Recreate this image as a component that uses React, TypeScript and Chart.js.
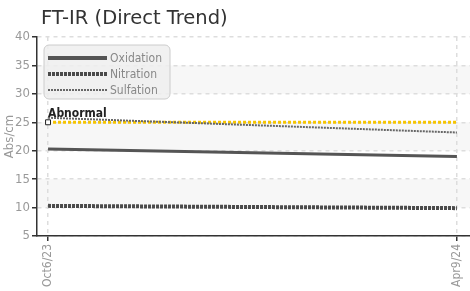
import React, { useEffect, useRef } from "react";
import { Chart, registerables } from "chart.js";

Chart.register(...registerables);

const categories = ["Oct6/23", "Apr9/24"];
const xIndex = [0, 1];
const oxidation = [20.3, 19.0];
const nitration = [10.3, 9.9];
const sulfation = [25.8, 23.2];
const abnormal = [25, 25];
const yTickValues = [5, 10, 15, 20, 25, 30, 35, 40];
const bandRanges = [
  [30, 35],
  [20, 25],
  [10, 15],
];

const NARROW = "'Liberation Sans Narrow', 'DejaVu Sans Condensed', 'Roboto', sans-serif";

export default function App() {
  const ref = useRef<HTMLCanvasElement | null>(null);

  useEffect(() => {
    const canvas = ref.current;
    if (!canvas) return;

    const bandsPlugin = {
      id: "bands",
      beforeDraw(chart: any) {
        const { ctx, chartArea } = chart;
        const y = chart.scales.y;
        ctx.save();
        ctx.fillStyle = "#f7f7f7";
        bandRanges.forEach(([a, b]) => {
          const y1 = y.getPixelForValue(b);
          const y2 = y.getPixelForValue(a);
          ctx.fillRect(chartArea.left, y1, chartArea.right - chartArea.left, y2 - y1);
        });
        ctx.restore();
      },
    };

    const overlayPlugin = {
      id: "overlay",
      afterDraw(chart: any) {
        const { ctx } = chart;
        ctx.save();
        // Title
        ctx.fillStyle = "#333";
        ctx.font = "19.5px 'DejaVu Sans', sans-serif";
        ctx.textBaseline = "alphabetic";
        ctx.textAlign = "left";
        ctx.fillText("FT-IR (Direct Trend)", 41, 24);

        // Abnormal label
        const meta = chart.getDatasetMeta(3);
        const p = meta.data[0];
        ctx.fillStyle = "#222";
        ctx.font = `bold 12px ${NARROW}`;
        ctx.fillText("Abnormal", p.x, p.y - 5);

        // Legend box
        const bx = 44, by = 45, bw = 126, bh = 54, r = 5;
        ctx.beginPath();
        ctx.moveTo(bx + r, by);
        ctx.arcTo(bx + bw, by, bx + bw, by + bh, r);
        ctx.arcTo(bx + bw, by + bh, bx, by + bh, r);
        ctx.arcTo(bx, by + bh, bx, by, r);
        ctx.arcTo(bx, by, bx + bw, by, r);
        ctx.closePath();
        ctx.fillStyle = "rgba(238,238,238,0.85)";
        ctx.fill();
        ctx.strokeStyle = "#ccc";
        ctx.lineWidth = 1;
        ctx.stroke();

        const rows = [0, 1, 2];
        rows.forEach((di, i) => {
          const ds = chart.data.datasets[di];
          const yy = 58 + i * 16;
          ctx.beginPath();
          ctx.setLineDash(ds.borderDash || []);
          ctx.lineWidth = ds.legendWidth;
          ctx.strokeStyle = ds.borderColor;
          ctx.moveTo(48, yy);
          ctx.lineTo(107, yy);
          ctx.stroke();
          ctx.setLineDash([]);
          ctx.fillStyle = "#888";
          ctx.font = `12px ${NARROW}`;
          ctx.textBaseline = "middle";
          ctx.fillText(ds.label, 110, yy + 1);
        });
        ctx.restore();
      },
    };

    const mk = (vals: number[]) => xIndex.map((x, i) => ({ x, y: vals[i] }));

    const chart = new Chart(canvas, {
      type: "line",
      data: {
        datasets: [
          {
            label: "Oxidation",
            data: mk(oxidation),
            borderColor: "#555",
            borderWidth: 3,
            pointRadius: 0,
            legendWidth: 4,
          } as any,
          {
            label: "Nitration",
            data: mk(nitration),
            borderColor: "#4a4a4a",
            borderWidth: 4,
            borderDash: [3, 1],
            pointRadius: 0,
            legendWidth: 4,
          } as any,
          {
            label: "Sulfation",
            data: mk(sulfation),
            borderColor: "#666",
            borderWidth: 2,
            borderDash: [2, 1],
            pointRadius: 0,
            legendWidth: 2,
          } as any,
          {
            label: "Abnormal",
            data: mk(abnormal),
            borderColor: "#f5c400",
            borderWidth: 3,
            borderDash: [3, 2],
            pointStyle: "rect",
            pointRadius: [3.5, 0],
            pointBackgroundColor: "#fff",
            pointBorderColor: "#222",
            pointBorderWidth: 1,
            legendWidth: 3,
          } as any,
        ],
      },
      options: {
        animation: false,
        responsive: false,
        maintainAspectRatio: false,
        layout: { autoPadding: false, padding: { top: 37, left: 0, right: 0, bottom: 0 } },
        plugins: {
          legend: { display: false },
          title: { display: false },
          tooltip: { enabled: false },
        },
        scales: {
          x: {
            type: "linear",
            min: -0.027,
            max: 1.032,
            afterBuildTicks(scale: any) {
              scale.ticks = xIndex.map((v) => ({ value: v }));
            },
            afterFit(scale: any) {
              scale.height = 55;
              scale.paddingLeft = 0;
              scale.paddingRight = 0;
            },
            ticks: {
              callback: (v: any) => categories[v as number] ?? "",
              minRotation: 90,
              maxRotation: 90,
              color: "#999",
              font: { family: NARROW, size: 12 },
              padding: 3,
            },
            grid: {
              color: "#ddd",
              tickColor: "#333",
              tickLength: 5,
              lineWidth: 1.5,
            },
            border: { color: "#333", width: 1.5, dash: [4, 4] },
          },
          y: {
            min: 5,
            max: 40,
            afterBuildTicks(scale: any) {
              scale.ticks = yTickValues.map((v) => ({ value: v }));
            },
            afterFit(scale: any) {
              scale.width = 37;
            },
            title: {
              display: true,
              text: "Abs/cm",
              color: "#999",
              font: { family: NARROW, size: 13 },
              padding: { top: 2, bottom: 0 },
            },
            ticks: {
              color: "#999",
              font: { family: NARROW, size: 13 },
              padding: 2,
            },
            grid: {
              color: "#ddd",
              tickColor: "#333",
              tickLength: 5,
              lineWidth: 1.5,
            },
            border: { color: "#333", width: 1.5, dash: [4, 4] },
          },
        },
      } as any,
      plugins: [bandsPlugin, overlayPlugin],
    });

    return () => chart.destroy();
  }, []);

  return (
    <div style={{ position: "fixed", left: 0, top: 0, width: 470, height: 291, background: "#fff" }}>
      <canvas ref={ref} width={470} height={291} style={{ width: 470, height: 291, display: "block" }} />
    </div>
  );
}
